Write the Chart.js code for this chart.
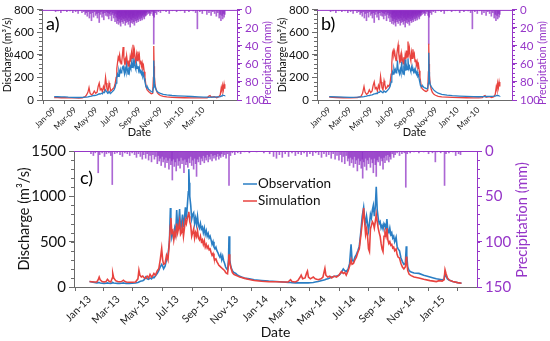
<!DOCTYPE html>
<html><head><meta charset="utf-8">
<script src="https://cdn.jsdelivr.net/npm/chart.js@4.4.0/dist/chart.umd.min.js"></script>
<style>
html,body{margin:0;padding:0;background:#fff;width:550px;height:341px;overflow:hidden}
canvas{position:absolute}
</style></head><body>
<canvas id="ca" width="275" height="138" style="left:0;top:0"></canvas>
<canvas id="cb" width="275" height="138" style="left:275px;top:0"></canvas>
<canvas id="cc" width="550" height="203" style="left:0;top:138px"></canvas>
<script>
// ---------- DATA (days counted from 1 Jan of first year) ----------
const tickDaysAB = [0,59,120,181,243,304,365,424];
const tickLabelsAB = ['Jan-09','Mar-09','May-09','Jul-09','Sep-09','Nov-09','Jan-10','Mar-10'];
const tickDaysC = [0,59,120,181,243,304,365,424,485,546,608,669,730];
const tickLabelsC = ['Jan-13','Mar-13','May-13','Jul-13','Sep-13','Nov-13','Jan-14','Mar-14','May-14','Jul-14','Sep-14','Nov-14','Jan-15'];

// Panel a
const daysA = [0,10,20,30,40,50,60,70,80,88,92,96,99,102,106,110,114,118,122,125,128,131,134,137,140,143,146,148,150,153,156,158,161,164,167,170,173,176,178,180,182,184,186,188,190,192,194,196,198,200,202,204,206,208,210,212,214,216,218,220,222,224,226,228,230,232,234,236,238,240,242,244,246,248,250,252,254,256,258,260,262,264,266,268,270,272,274,276,278,280,282,283,284,285,287,290,293,297,302,310,320,335,350,370,390,410,425,435,440,443,446,455,462,468,472,475,477,479,481,483,485];
const obsA  = [30,29,28,27,25,24,22,22,23,25,26,28,30,32,34,38,40,42,45,50,55,52,60,55,70,65,90,80,70,60,75,65,60,70,80,90,110,150,200,230,210,260,230,270,240,250,290,300,260,230,280,250,310,270,230,290,250,300,280,330,290,370,310,340,290,270,320,280,300,260,290,240,270,230,250,210,230,190,160,130,115,105,110,95,90,85,80,75,72,70,110,350,200,150,115,90,75,65,58,50,45,40,37,34,31,28,26,25,24,25,25,26,27,28,30,35,40,45,42,40,38];
const simA  = [22,21,20,20,19,18,18,17,20,30,45,70,110,60,45,55,80,60,70,120,150,90,100,75,120,90,200,150,100,80,150,120,80,90,100,110,140,200,280,330,380,360,400,350,320,340,400,470,380,330,360,310,390,340,300,350,310,380,340,420,370,490,400,440,360,330,400,350,430,370,400,320,350,300,330,280,300,250,200,150,110,90,85,75,70,65,60,55,55,60,200,480,300,200,130,90,65,50,40,32,27,24,22,20,19,18,18,20,35,40,25,30,20,30,45,110,80,130,90,140,100];

// Panel b
const daysB = [0,20,40,60,80,90,95,99,102,106,110,114,118,122,125,128,131,134,137,140,143,146,148,150,153,156,158,161,164,167,170,173,176,178,180,182,184,186,188,190,192,194,196,198,200,202,204,206,208,210,212,214,216,218,220,222,224,226,228,230,232,234,236,238,240,242,244,246,248,250,252,254,256,258,260,262,264,266,268,270,272,274,276,278,280,282,283,284,285,287,290,293,297,302,310,320,335,350,370,390,410,425,435,440,443,446,455,462,468,472,475,477,479,481,483,485];
const obsB  = [30,28,26,24,25,27,28,30,32,34,38,40,43,46,50,55,55,60,58,70,68,80,75,70,65,80,75,70,80,90,100,120,160,210,250,230,280,250,270,240,260,350,270,250,230,270,240,340,260,230,280,250,360,260,300,270,370,280,300,270,250,290,260,280,250,270,240,260,230,250,210,220,180,150,130,125,120,125,115,110,110,105,100,100,105,150,420,250,180,140,120,105,90,75,60,50,43,38,35,32,30,29,30,30,32,31,32,33,34,35,38,40,40,38,36,35];
const simB  = [25,22,20,19,22,30,60,120,70,50,60,90,65,80,130,160,100,110,80,130,100,210,160,110,90,170,140,100,110,130,120,150,230,330,420,440,400,430,380,350,400,450,490,400,350,390,330,410,360,320,380,330,400,360,440,380,520,420,460,380,350,420,370,450,390,410,340,360,310,340,290,310,260,200,160,120,100,95,90,85,80,78,75,75,85,250,500,320,220,140,95,70,52,42,33,28,25,23,21,20,19,19,22,35,40,25,30,22,30,50,120,90,150,110,160,120];

// Precipitation 2009-2010 (shared by a and b): rain days and depth (mm)
const pDaysAB = [4,11,19,27,36,45,53,61,68,74,79,84,88,91,94,97,100,103,106,109,112,115,118,121,123,126,128,131,133,136,139,141,144,147,149,151,153,155,157,159,161,163,165,167,169,171,173,174,176,178,179,180,181,182,183,184,185,186,187,188,189,190,191,192,193,194,195,196,197,198,199,200,201,202,203,204,205,206,207,208,209,210,211,212,213,214,215,216,217,218,219,220,221,222,223,224,225,226,227,228,229,230,231,232,233,234,235,236,237,238,239,240,241,242,243,244,245,246,247,248,249,250,251,252,253,254,255,256,257,258,259,260,261,262,264,266,268,270,272,275,278,281,283,284,287,291,296,302,310,318,327,336,348,359,371,383,395,402,407,414,421,428,434,440,446,451,456,461,465,469,472,474,477,479,481,483,485];
const pValsAB = [2,1,3,1,2,1,3,2,4,1,3,2,5,3,7,2,9,4,12,3,8,2,6,4,9,3,14,5,2,8,4,11,3,6,2,7,3,10,4,6,2,12,5,3,9,6,13,4,8,15,5,9,12,4,16,7,10,3,14,8,18,5,11,7,13,4,9,15,6,10,3,12,8,17,5,9,14,6,11,4,13,7,16,9,5,12,8,19,6,10,14,4,11,7,15,9,5,13,8,17,6,10,3,12,7,14,5,9,11,4,13,6,8,3,10,5,12,4,7,9,3,11,5,6,2,8,4,10,3,5,7,2,6,3,5,2,4,3,6,4,2,6,38,8,3,5,2,3,1,2,4,1,2,1,3,2,1,3,21,2,4,1,5,3,6,2,4,7,3,9,5,12,6,10,4,8,5];

// Panel c
const daysC = [0,5,10,15,18,20,22,26,30,34,37,40,44,47,48,50,54,58,62,66,70,72,76,82,88,95,100,102,104,107,110,113,116,119,122,125,128,131,133,136,140,143,146,149,151,153,156,159,162,165,167,168,170,172,174,176,178,180,182,184,186,188,190,192,194,196,198,200,202,204,205,206,207,209,211,213,215,217,219,221,223,225,227,229,231,233,235,237,239,241,243,245,247,249,251,253,255,257,259,261,263,265,267,269,271,273,275,277,279,281,283,285,287,288,289,290,292,295,298,302,306,310,314,320,330,340,355,370,385,400,410,415,418,425,430,435,437,440,445,448,450,452,456,462,466,472,478,482,486,488,492,496,500,505,510,515,520,524,527,530,534,537,540,542,545,548,551,554,557,560,563,566,568,570,572,574,576,578,580,582,584,586,588,590,592,594,596,598,600,602,604,606,608,610,612,614,616,618,620,622,624,626,628,630,633,635,637,640,643,646,649,652,654,655,657,660,664,670,680,690,703,710,716,722,728,732,734,736,739,743,750,760,768];
const obsC  = [60,55,50,45,48,50,45,42,40,42,45,42,40,45,50,45,42,40,40,42,45,42,40,40,42,44,50,55,60,65,70,80,110,90,85,100,90,110,100,120,150,180,220,250,230,200,230,300,350,500,870,700,550,600,560,650,600,850,650,700,860,620,700,800,660,760,880,750,900,1050,1300,1150,1000,900,750,800,820,700,760,690,780,680,650,700,640,660,600,650,580,620,560,590,540,560,520,470,500,440,420,440,400,380,350,330,360,300,340,290,260,220,200,190,300,560,420,300,220,180,160,150,130,120,110,100,90,80,72,65,60,55,50,50,48,45,45,45,45,45,45,45,45,45,47,50,55,60,70,75,80,85,90,100,110,115,120,130,160,200,180,170,200,260,470,300,280,330,360,400,450,600,780,880,760,700,780,700,620,700,800,760,850,900,780,880,1105,850,760,700,720,650,680,640,700,680,640,750,620,600,650,580,600,540,560,500,550,450,420,400,320,280,250,260,450,350,220,180,165,155,150,130,110,100,90,85,80,85,150,120,90,75,60,48,42];
const simC  = [60,58,55,55,80,110,80,60,55,60,85,65,55,100,150,100,70,60,58,60,75,65,55,52,52,55,90,185,130,110,120,100,95,120,100,140,110,130,150,130,180,200,300,425,300,250,260,350,300,500,680,760,600,620,520,600,560,700,600,650,720,580,600,680,560,650,740,700,760,800,830,780,720,680,560,600,640,540,600,560,620,540,520,560,500,520,470,510,440,470,430,450,410,420,380,350,370,320,300,310,280,260,240,230,220,210,200,190,180,160,150,145,260,360,340,270,210,160,140,130,120,110,105,95,82,72,64,58,58,55,55,80,60,55,70,110,130,90,100,150,175,110,90,110,90,80,90,110,205,130,110,120,100,120,110,130,170,150,160,130,180,230,300,250,260,300,330,380,420,560,700,870,720,580,640,560,420,390,640,680,720,700,650,720,800,720,650,600,560,480,420,390,560,600,560,650,520,480,500,460,470,430,440,400,420,360,330,320,260,220,200,220,335,280,180,140,125,110,100,85,70,65,60,70,65,80,190,150,100,75,60,48,42];

// Precipitation 2013-2015
const pDaysC = [3,8,12,18,21,26,31,35,40,44,47,52,57,63,68,73,78,83,88,93,97,101,105,109,112,116,119,122,125,128,131,134,137,140,142,144,146,148,150,152,154,156,158,160,162,164,166,168,170,171,173,175,177,179,181,183,185,187,189,191,193,195,197,199,201,203,205,207,209,211,213,215,217,219,221,223,225,227,229,231,233,235,237,239,241,243,245,247,249,251,253,255,257,259,261,263,265,267,269,271,273,276,279,282,285,288,291,295,300,306,312,320,330,345,360,372,380,386,392,398,404,411,418,425,431,437,443,449,455,461,467,473,479,484,489,494,499,503,507,511,515,518,521,524,527,530,533,535,537,539,541,543,545,547,549,551,553,555,557,559,561,563,564,566,568,570,572,574,576,578,580,582,584,586,588,590,592,594,596,598,600,602,604,606,608,610,612,614,616,618,620,622,625,628,631,635,640,645,650,653,656,662,670,680,690,700,708,714,718,725,733,736,742,750,756,762,766];
const pValsC = [3,5,2,24,4,2,6,3,2,5,37,3,2,4,6,2,3,5,2,4,7,3,6,9,4,8,3,10,5,12,4,9,6,14,5,11,8,16,6,12,9,18,7,13,10,20,8,15,11,32,9,17,12,22,8,16,11,19,7,14,10,24,9,15,12,18,8,13,6,16,10,20,8,14,28,9,12,6,15,8,11,5,13,7,10,4,12,6,9,3,11,5,8,4,10,6,3,9,5,7,3,6,4,8,3,38,5,2,4,2,3,1,2,1,2,3,6,8,4,7,3,6,2,5,3,4,2,6,3,5,2,4,7,3,6,4,8,3,9,5,10,4,12,6,14,5,11,8,16,7,13,9,18,6,14,10,22,8,15,11,19,9,30,12,17,8,21,10,14,7,18,9,13,24,8,15,28,10,12,6,16,8,11,20,7,13,5,10,4,12,6,9,3,7,4,2,5,3,2,40,3,2,1,2,1,3,2,12,1,2,38,3,2,1,5,3,4];

// ---------- STYLE ----------
const FONT = 'Lato, "Liberation Sans", sans-serif';
const PURPLE = '#9636c8';
const BLUE = '#2a7ec4';
const RED = '#e8433f';
const AXIS = '#6b6b6b';

const decor = {
  id: 'decor',
  afterDraw(chart, args, o) {
    const ctx = chart.ctx, ca = chart.chartArea;
    const y = chart.scales.y, y2 = chart.scales.y2;
    ctx.save();
    ctx.lineWidth = 1;
    ctx.strokeStyle = PURPLE;
    ctx.beginPath(); ctx.moveTo(ca.left, ca.top + 0.5); ctx.lineTo(ca.right, ca.top + 0.5); ctx.stroke();
    ctx.strokeStyle = AXIS;
    for (let v = 0; v <= y.max; v += o.yMinor) {
      const p = Math.round(y.getPixelForValue(v)) + 0.5;
      ctx.beginPath(); ctx.moveTo(ca.left - 3, p); ctx.lineTo(ca.left, p); ctx.stroke();
    }
    ctx.strokeStyle = PURPLE;
    for (let v = 0; v <= y2.max; v += o.pMinor) {
      const p = Math.round(y2.getPixelForValue(v)) + 0.5;
      ctx.beginPath(); ctx.moveTo(ca.right, p); ctx.lineTo(ca.right + 3, p); ctx.stroke();
    }
    ctx.fillStyle = '#000';
    ctx.font = o.labelSize + 'px ' + FONT;
    ctx.textAlign = 'left'; ctx.textBaseline = 'alphabetic';
    ctx.fillText(o.label, o.labelX, o.labelY);
    ctx.save();
    ctx.translate(o.rtX, o.rtY); ctx.rotate(-Math.PI / 2);
    ctx.fillStyle = PURPLE; ctx.font = o.rtSize + 'px ' + FONT;
    ctx.textAlign = 'center'; ctx.textBaseline = 'middle';
    ctx.fillText('Precipitation (mm)', 0, 0);
    ctx.restore();
    if (o.legend) {
      const ds = chart.data.datasets;
      ctx.font = o.legend.size + 'px ' + FONT;
      ctx.textBaseline = 'middle';
      [0, 1].forEach((k, i) => {
        const yy = o.legend.y + i * o.legend.gap;
        ctx.strokeStyle = ds[k].borderColor; ctx.lineWidth = 1.5;
        ctx.beginPath(); ctx.moveTo(o.legend.x, yy); ctx.lineTo(o.legend.x + 14, yy); ctx.stroke();
        ctx.fillStyle = '#111';
        ctx.fillText(ds[k].label, o.legend.x + 15, yy);
      });
    }
    ctx.restore();
  }
};

function pts(xs, ys) { return xs.map((x, i) => ({ x: x, y: ys[i] })); }

function makeChart(id, c) {
  new Chart(document.getElementById(id), {
    type: 'line',
    data: {
      datasets: [
        { label: 'Observation', data: pts(c.days, c.obs), borderColor: BLUE, borderWidth: c.lw, pointRadius: 0, yAxisID: 'y', order: c.obsOrder },
        { label: 'Simulation', data: pts(c.days, c.sim), borderColor: RED, borderWidth: c.lw, pointRadius: 0, yAxisID: 'y', order: c.simOrder },
        { type: 'bar', label: 'Precipitation', data: pts(c.pDays, c.pVals), backgroundColor: 'rgba(140,45,195,0.72)', barThickness: 1, yAxisID: 'y2', order: 10 }
      ]
    },
    options: {
      responsive: false, animation: false, events: [],
      layout: { padding: { top: c.padTop, left: 0, right: 0, bottom: 0 } },
      plugins: { legend: { display: false }, tooltip: { enabled: false }, decor: c.decor },
      scales: {
        x: {
          type: 'linear', min: 0, max: c.xMax, position: 'bottom',
          afterBuildTicks: s => { s.ticks = c.tickDays.map(v => ({ value: v })); },
          afterFit: s => { s.height = c.xH; },
          ticks: { autoSkip: false, minRotation: 45, maxRotation: 45, padding: c.xtPad, color: '#222', font: { family: FONT, size: c.xtSize }, callback: (v, i) => c.tickLabels[i] },
          grid: { drawOnChartArea: false, tickLength: 4, color: AXIS },
          border: { color: AXIS },
          title: { display: true, text: 'Date', color: '#111', font: { family: FONT, size: c.dateSize }, padding: { top: 0, bottom: c.datePad } }
        },
        y: {
          position: 'left', min: 0, max: c.yMax,
          afterFit: s => { s.width = c.yW; },
          ticks: { stepSize: c.yStep, padding: 3, color: '#111', font: { family: FONT, size: c.ytSize }, callback: v => String(v) },
          grid: { drawOnChartArea: false, tickLength: 5, color: AXIS },
          border: { color: AXIS },
          title: { display: true, text: 'Discharge (m³/s)', color: '#111', font: { family: FONT, size: c.ylSize }, padding: { top: c.ylPad, bottom: 0 } }
        },
        y2: {
          position: 'right', min: 0, max: c.pMax, reverse: true,
          afterFit: s => { s.width = c.y2W; },
          ticks: { stepSize: c.pStep, padding: 3, color: PURPLE, font: { family: FONT, size: c.ptSize }, callback: v => String(v) },
          grid: { drawOnChartArea: false, tickLength: 5, color: PURPLE },
          border: { color: PURPLE }
        }
      }
    },
    plugins: [decor]
  });
}

const abCommon = {
  tickDays: tickDaysAB, tickLabels: tickLabelsAB, pDays: pDaysAB, pVals: pValsAB,
  xMax: 485, yMax: 800, yStep: 200, pMax: 100, pStep: 20,
  padTop: 9, xH: 38, yW: 42, y2W: 38, lw: 1.3, obsOrder: 1, simOrder: 2,
  xtSize: 8.5, xtPad: 1, dateSize: 11, datePad: -1, ytSize: 11.5, ylSize: 10.5, ylPad: 1, ptSize: 11.5
};
makeChart('ca', Object.assign({}, abCommon, { days: daysA, obs: obsA, sim: simA,
  decor: { yMinor: 40, pMinor: 5, label: 'a)', labelSize: 18, labelX: 46, labelY: 30, rtX: 268, rtY: 63, rtSize: 10.5 } }));
makeChart('cb', Object.assign({}, abCommon, { days: daysB, obs: obsB, sim: simB,
  decor: { yMinor: 40, pMinor: 5, label: 'b)', labelSize: 18, labelX: 46, labelY: 30, rtX: 268, rtY: 63, rtSize: 10.5 } }));
makeChart('cc', { days: daysC, obs: obsC, sim: simC, pDays: pDaysC, pVals: pValsC,
  tickDays: tickDaysC, tickLabels: tickLabelsC,
  xMax: 768, yMax: 1500, yStep: 500, pMax: 150, pStep: 50,
  padTop: 13, xH: 54, yW: 74, y2W: 73, lw: 1.6, obsOrder: 2, simOrder: 1,
  xtSize: 10.5, xtPad: 2, dateSize: 14, datePad: 0, ytSize: 15, ylSize: 14.5, ylPad: 16, ptSize: 15,
  decor: { yMinor: 100, pMinor: 10, label: 'c)', labelSize: 18, labelX: 80, labelY: 46, rtX: 522, rtY: 82, rtSize: 14.5,
    legend: { x: 243, y: 46, gap: 17, size: 13.5 } } });
</script>
</body></html>
